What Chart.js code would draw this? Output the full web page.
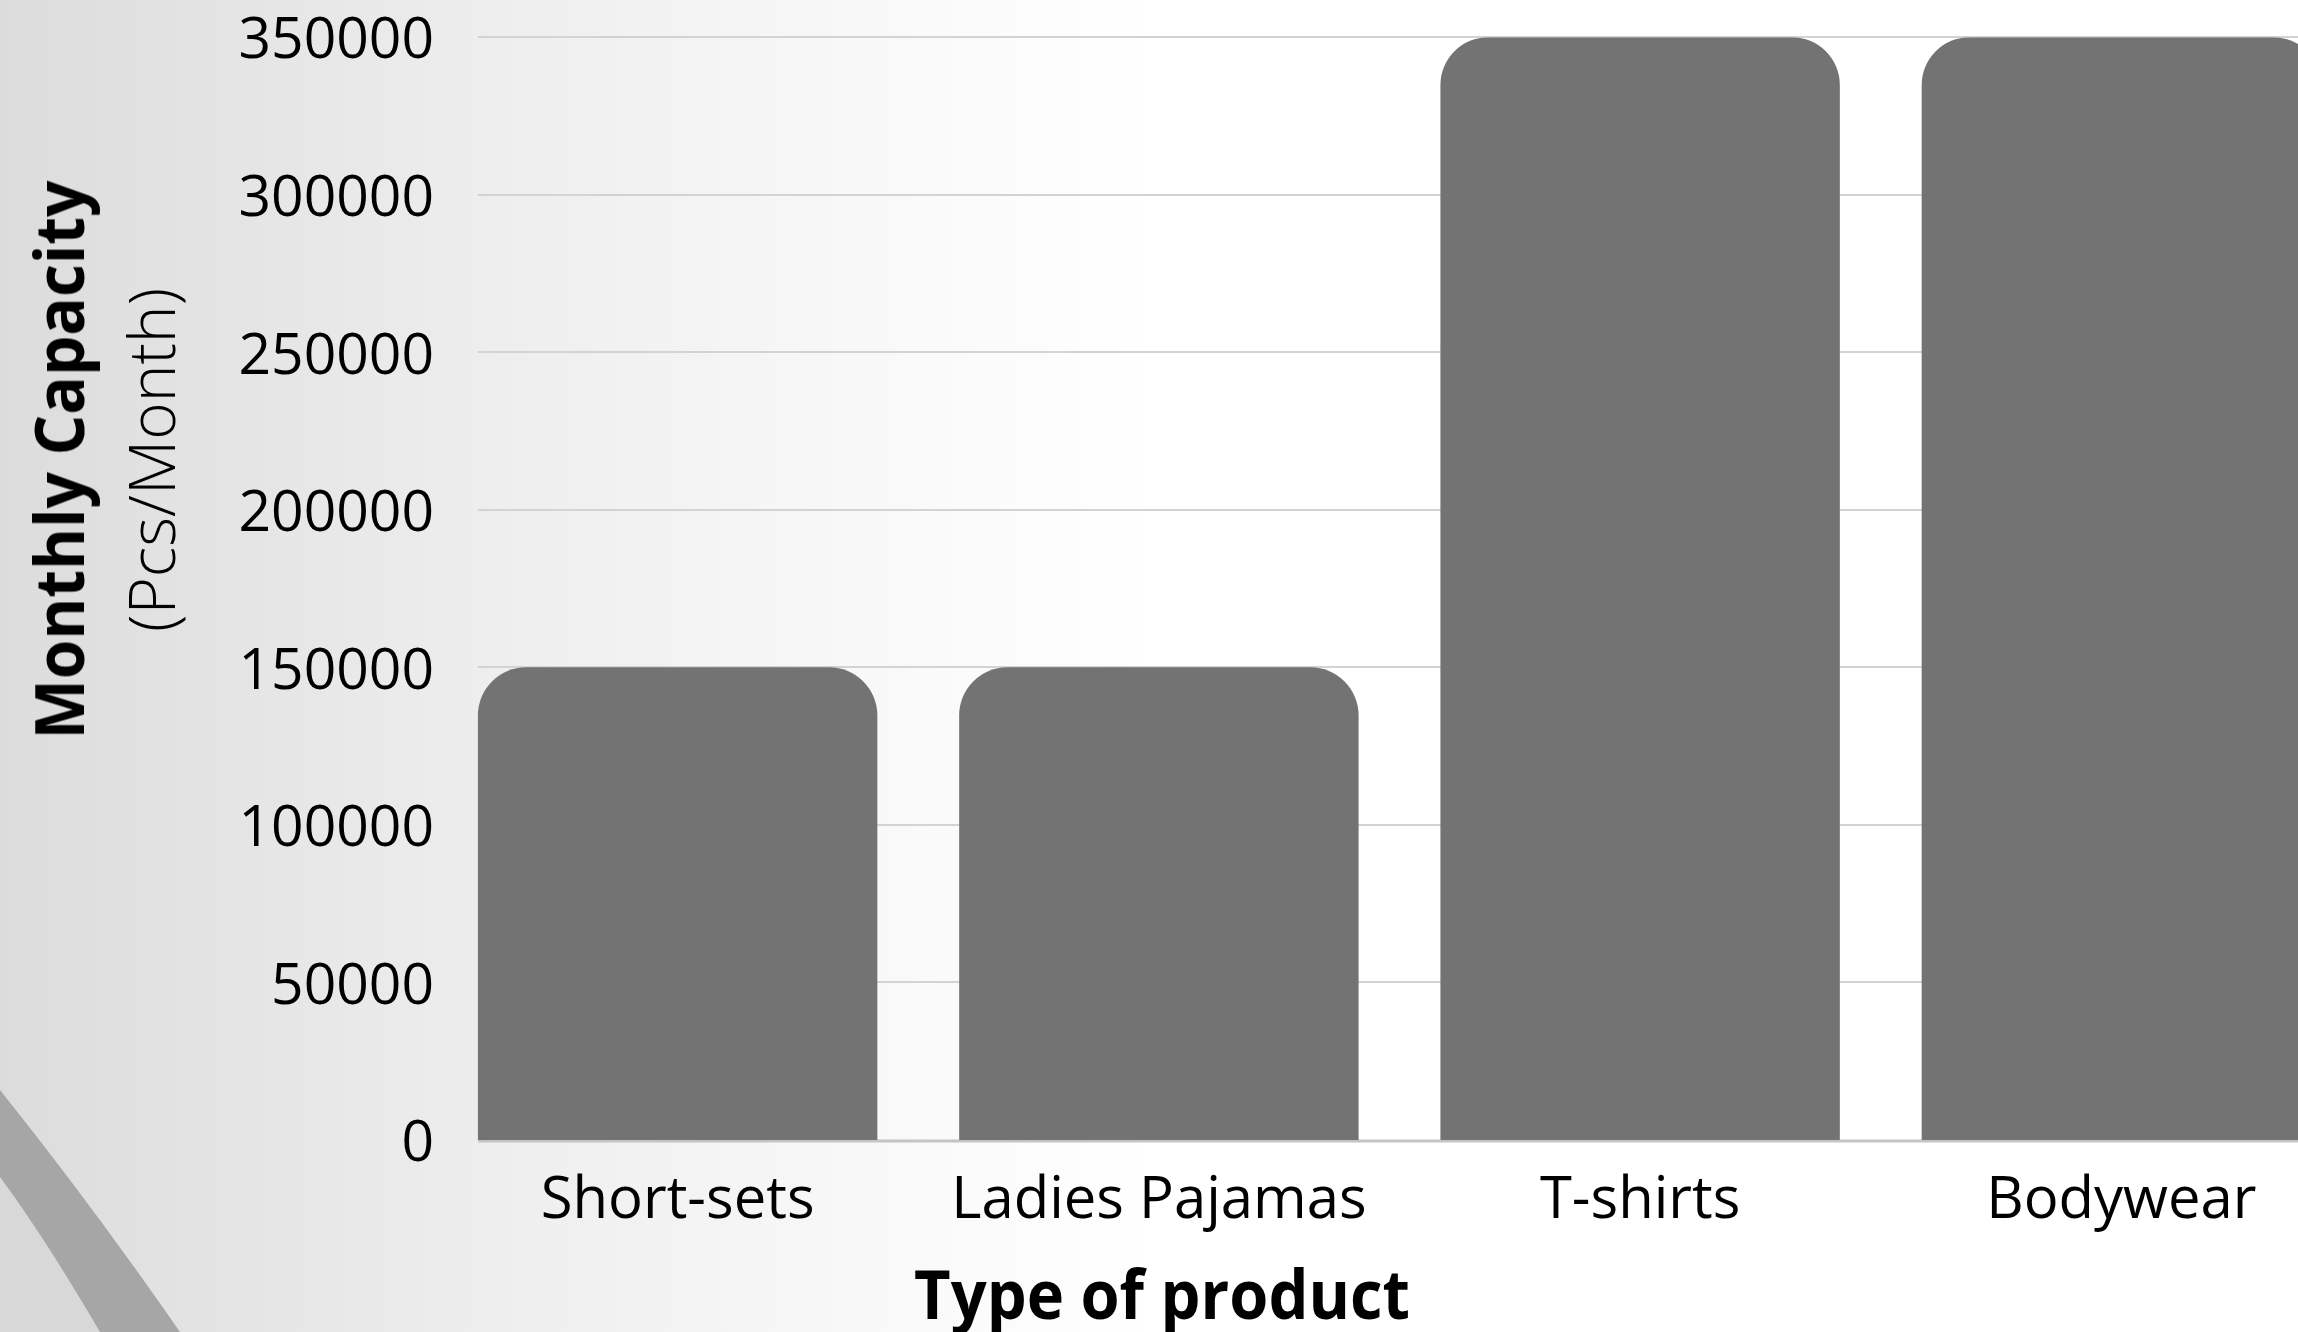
<!DOCTYPE html>
<html>
<head>
<meta charset="utf-8">
<script src="https://cdn.jsdelivr.net/npm/chart.js@4.4.1/dist/chart.umd.min.js"></script>
<style>
  html, body { margin: 0; padding: 0; overflow: hidden; }
  body {
    width: 2298px; height: 1332px; position: relative;
    background: linear-gradient(to right, #dcdcdc 0px, #eeeeee 500px, #f8f8f8 850px, #ffffff 1150px);
    font-family: "Open Sans", sans-serif;
  }
  #deco { position: absolute; left: 0; top: 0; }
  #wrap { position: absolute; left: 0; top: 0; width: 2370px; height: 1332px; }
  .ytitle, .xtitle { position: absolute; white-space: nowrap; line-height: 1; color: #000; }
  #yt1 { left: 58px; top: 460px; font-size: 68px; font-weight: 700;
         transform: translate(-50%, -50%) rotate(-90deg) scaleX(0.94); }
  #yt2 { left: 151px; top: 460px; font-size: 64px; font-weight: 300;
         transform: translate(-50%, -50%) rotate(-90deg) scaleX(1.0); }
  #xt { left: 1162px; top: 1293px; font-size: 68px; font-weight: 700;
        transform: translate(-50%, -50%) scaleX(0.93); }
</style>
</head>
<body>
<svg id="deco" width="300" height="1332" viewBox="0 0 300 1332">
  <path d="M0,1177 Q45,1238 100,1332 L0,1332 Z" fill="#d8d8d8"/>
  <path d="M0,1090 Q92,1205 180,1332 L100,1332 Q45,1238 0,1177 Z" fill="#a6a6a6"/>
</svg>
<div id="wrap"><canvas id="capacityChart"></canvas></div>
<div class="ytitle" id="yt1">Monthly Capacity</div>
<div class="ytitle" id="yt2">(Pcs/Month)</div>
<div class="xtitle" id="xt">Type of product</div>

<script>
const categories = ["Short-sets", "Ladies Pajamas", "T-shirts", "Bodywear"];
const capacity = [150000, 150000, 350000, 350000];
const yTickValues = [0, 50000, 100000, 150000, 200000, 250000, 300000, 350000];

// grid lines start at the left edge of the first bar, like the original
const gridFromFirstBar = {
  id: "gridFromFirstBar",
  beforeDatasetsDraw(chart) {
    const ctx = chart.ctx;
    const area = chart.chartArea;
    const y = chart.scales.y;
    const first = chart.getDatasetMeta(0).data[0];
    const left = first.x - first.width / 2;
    ctx.save();
    y.ticks.forEach(t => {
      const zero = t.value === 0;
      const py = Math.round(y.getPixelForValue(t.value)) + (zero ? 1 : 0);
      ctx.strokeStyle = zero ? "#c4c4c4" : "#d3d3d3";
      ctx.lineWidth = zero ? 3 : 2;
      ctx.beginPath();
      ctx.moveTo(left, py);
      ctx.lineTo(area.right + 20, py);
      ctx.stroke();
    });
    ctx.restore();
  }
};

window.onload = () => {
  const ctx = document.getElementById("capacityChart");
  new Chart(ctx, {
    type: "bar",
    data: {
      labels: categories,
      datasets: [{
        data: capacity,
        backgroundColor: "#737373",
        borderRadius: 48,
        borderSkipped: "start",
        categoryPercentage: 1.0,
        barPercentage: 0.83
      }]
    },
    options: {
      responsive: true,
      maintainAspectRatio: false,
      animation: false,
      layout: { padding: { top: 37, right: 8, bottom: 0, left: 0 } },
      plugins: {
        legend: { display: false },
        tooltip: { enabled: false }
      },
      scales: {
        x: {
          grid: { display: false, drawTicks: false },
          border: { display: false },
          ticks: {
            color: "#000",
            padding: 27,
            font: { family: "Open Sans", size: 58 }
          },
          afterFit: s => { s.height = 192; }
        },
        y: {
          min: 0,
          max: 350000,
          grid: { display: false, drawTicks: false },
          border: { display: false },
          afterBuildTicks: s => { s.ticks = yTickValues.map(v => ({ value: v })); },
          ticks: {
            color: "#000",
            padding: 3,
            labelOffset: 5,
            font: { family: "Open Sans", size: 57 },
            callback: v => String(v)
          },
          afterFit: s => { s.width = 437; }
        }
      }
    },
    plugins: [gridFromFirstBar]
  });
};
</script>
</body>
</html>
